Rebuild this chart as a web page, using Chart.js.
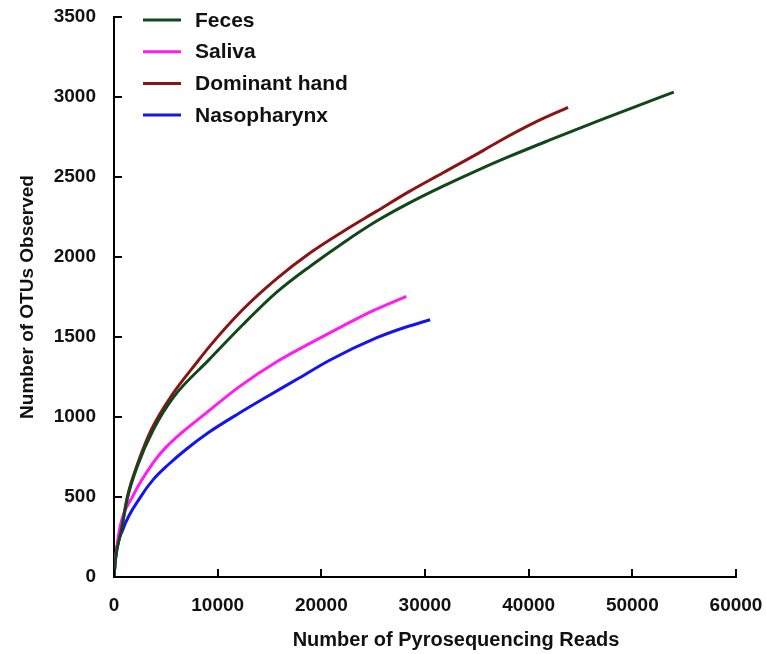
<!DOCTYPE html>
<html>
<head>
<meta charset="utf-8">
<script src="https://cdn.jsdelivr.net/npm/chart.js@4"></script>
<style>
  html, body { margin: 0; padding: 0; background: #fff; }
  #rarefaction { display: block; }
</style>
</head>
<body>
<canvas id="rarefaction" width="766" height="654"></canvas>
<script>
// series labels + colours
const seriesNames = ['Feces', 'Saliva', 'Dominant hand', 'Nasopharynx'];
const seriesColors = ['#12471a', '#ff1cf0', '#8a1414', '#1414f0'];

// reads (x) and OTUs observed (y)
const fecesReads = [0, 150, 700, 1300, 2300, 3800, 5800, 9200, 12400, 15700, 18900, 22100, 25300, 28500, 31700, 35000, 38200, 42000, 46900, 50500, 54000];
const fecesOTUs  = [0, 115, 290, 495, 700, 921, 1129, 1360, 1575, 1780, 1941, 2088, 2223, 2338, 2441, 2540, 2630, 2730, 2855, 2945, 3030];

const salivaReads = [0, 150, 530, 1800, 3750, 5000, 6500, 8600, 12100, 15700, 18900, 22100, 25000, 28200];
const salivaOTUs  = [0, 110, 296, 504, 712, 810, 900, 1010, 1190, 1345, 1460, 1570, 1665, 1754];

const handReads = [0, 150, 700, 1300, 2300, 3600, 5500, 8100, 9200, 12400, 15700, 18900, 22100, 25300, 28500, 31700, 35600, 37200, 40500, 43800];
const handOTUs  = [0, 120, 296, 504, 712, 921, 1129, 1350, 1440, 1670, 1865, 2025, 2160, 2285, 2410, 2525, 2665, 2725, 2838, 2935];

const nasoReads = [0, 150, 850, 2600, 3800, 5200, 7000, 9050, 12100, 14700, 17900, 20800, 25300, 27600, 30500];
const nasoOTUs  = [0, 129, 296, 504, 610, 700, 800, 900, 1025, 1125, 1245, 1355, 1494, 1550, 1608];

// axis ticks
const xTicks = [0, 10000, 20000, 30000, 40000, 50000, 60000];
const yTicks = [0, 500, 1000, 1500, 2000, 2500, 3000, 3500];

const toPoints = (xs, ys) => xs.map((x, i) => ({ x: x, y: ys[i] }));
const allSeries = [
    toPoints(fecesReads, fecesOTUs),
    toPoints(salivaReads, salivaOTUs),
    toPoints(handReads, handOTUs),
    toPoints(nasoReads, nasoOTUs),
];

const FONT = 'Liberation Sans, Arial, sans-serif';

// ticks on the inside of both axes (the original figure has them pointing in)
const innerTicks = {
    id: 'innerTicks',
    afterDraw(chart) {
        const { ctx, chartArea, scales } = chart;
        ctx.save();
        ctx.strokeStyle = '#000';
        ctx.lineWidth = 2;
        ctx.beginPath();
        xTicks.forEach(v => {
            const px = Math.round(scales.x.getPixelForValue(v));
            ctx.moveTo(px, chartArea.bottom);
            ctx.lineTo(px, chartArea.bottom - 8);
        });
        yTicks.forEach(v => {
            const py = Math.round(scales.y.getPixelForValue(v));
            ctx.moveTo(chartArea.left, py);
            ctx.lineTo(chartArea.left + 8, py);
        });
        ctx.stroke();

        // x axis title sits a bit right of centre in the original
        ctx.font = 'bold 20px ' + FONT;
        ctx.fillStyle = '#111';
        ctx.textAlign = 'center';
        ctx.textBaseline = 'middle';
        ctx.fillText('Number of Pyrosequencing Reads', (chartArea.left + chartArea.right) / 2 + 31, 640);
        ctx.restore();
    }
};

// legend drawn inside the plot, top-left, one entry per row
const insideLegend = {
    id: 'insideLegend',
    afterDraw(chart) {
        const { ctx, chartArea } = chart;
        ctx.save();
        ctx.font = 'bold 21px ' + FONT;
        ctx.textBaseline = 'middle';
        ctx.fillStyle = '#111';
        chart.data.datasets.forEach((ds, i) => {
            const y = chartArea.top + 3 + i * 31.7;
            const x0 = chartArea.left + 29;
            ctx.strokeStyle = ds.borderColor;
            ctx.lineWidth = 3;
            ctx.beginPath();
            ctx.moveTo(x0, y);
            ctx.lineTo(x0 + 38, y);
            ctx.stroke();
            ctx.fillText(ds.label, x0 + 52, y + 1);
        });
        ctx.restore();
    }
};

const ctx = document.getElementById('rarefaction').getContext('2d');
new Chart(ctx, {
    type: 'line',
    data: {
        datasets: allSeries.map((pts, i) => ({
            label: seriesNames[i],
            data: pts,
            borderColor: seriesColors[i],
            backgroundColor: seriesColors[i],
            borderWidth: 3,
            pointRadius: 0,
            fill: false,
            cubicInterpolationMode: 'monotone',
        })),
    },
    options: {
        responsive: false,
        animation: false,
        layout: { padding: 0 },
        plugins: {
            legend: { display: false },
            tooltip: { enabled: false },
        },
        scales: {
            x: {
                type: 'linear',
                min: 0,
                max: 60000,
                afterBuildTicks: (scale) => { scale.ticks = xTicks.map(v => ({ value: v })); },
                afterFit: (scale) => {
                    scale.height = 77;
                    scale.paddingLeft = 0;
                    scale.paddingRight = 30;
                },
                grid: { display: false, drawTicks: false },
                border: { display: true, color: '#000', width: 2 },
                ticks: {
                    padding: 17,
                    color: '#111',
                    font: { family: FONT, size: 19, weight: 'bold' },
                    maxRotation: 0,
                    callback: (v) => String(v),
                },
                title: { display: false },
            },
            y: {
                min: 0,
                max: 3500,
                afterBuildTicks: (scale) => { scale.ticks = yTicks.map(v => ({ value: v })); },
                afterFit: (scale) => {
                    scale.width = 114;
                    scale.paddingTop = 17;
                    scale.paddingBottom = 0;
                },
                grid: { display: false, drawTicks: false },
                border: { display: true, color: '#000', width: 2 },
                ticks: {
                    padding: 18,
                    color: '#111',
                    font: { family: FONT, size: 19, weight: 'bold' },
                    callback: (v) => String(v),
                },
                title: {
                    display: true,
                    text: 'Number of OTUs Observed',
                    color: '#111',
                    font: { family: FONT, size: 19, weight: 'bold' },
                    padding: { top: 16, bottom: 0 },
                },
            },
        },
    },
    plugins: [innerTicks, insideLegend],
});
</script>
</body>
</html>
